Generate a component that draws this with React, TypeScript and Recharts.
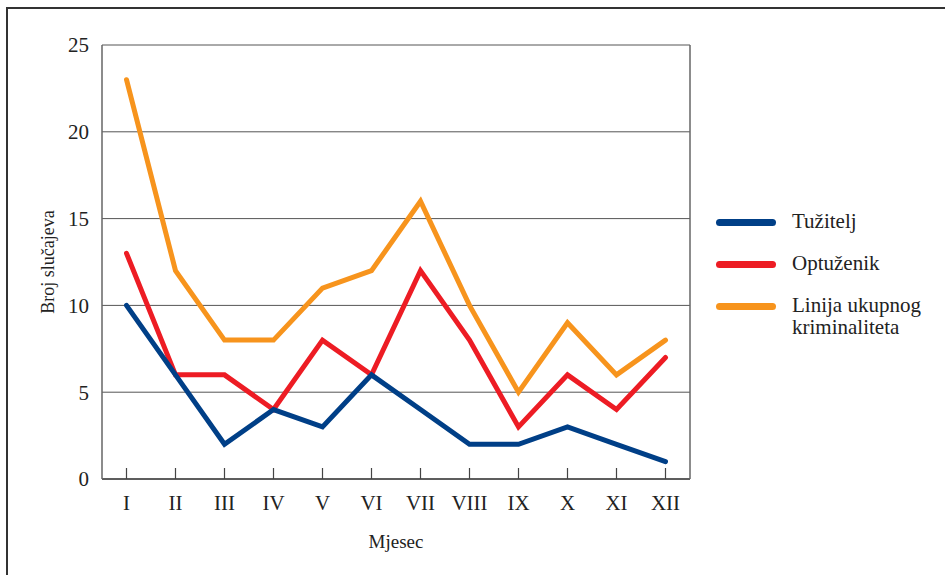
import { LineChart, Line, XAxis, YAxis, CartesianGrid } from "recharts";

// months (Roman numerals) and counts
const months = ["I", "II", "III", "IV", "V", "VI", "VII", "VIII", "IX", "X", "XI", "XII"];
const tuzitelj = [10, 6, 2, 4, 3, 6, 4, 2, 2, 3, 2, 1];
const optuzenik = [13, 6, 6, 4, 8, 6, 12, 8, 3, 6, 4, 7];
const ukupno = [23, 12, 8, 8, 11, 12, 16, 10, 5, 9, 6, 8];
const yTicks = [0, 5, 10, 15, 20, 25];

const series = [
  { key: "tuzitelj", name: ["Tužitelj"], color: "#003f87", axis: "left" },
  { key: "optuzenik", name: ["Optuženik"], color: "#ed1c24", axis: "left" },
  { key: "ukupno", name: ["Linija ukupnog", "kriminaliteta"], color: "#f7941d", axis: "right" },
];

const data = months.map((m, i) => ({
  month: m,
  tuzitelj: tuzitelj[i],
  optuzenik: optuzenik[i],
  ukupno: ukupno[i],
}));

const FONT = '"Liberation Serif", "DejaVu Serif", serif';

// x tick: short tick mark pointing up into the plot, label below
const MonthTick = (props: any) => {
  const { x, y, payload } = props;
  return (
    <g>
      <line x1={x} y1={y - 11} x2={x} y2={y} stroke="#444" strokeWidth={1.2} />
      <text x={x} y={y + 31} textAnchor="middle" fontSize={21} fill="#222" style={{ fontFamily: FONT }}>
        {payload.value}
      </text>
    </g>
  );
};

export default function App() {
  return (
    <div style={{ position: "absolute", left: 0, top: 0, width: 945, height: 575, background: "#fff", fontFamily: FONT }}>
      <div
        style={{
          position: "absolute",
          left: 6,
          top: 7,
          right: 0,
          bottom: 0,
          borderTop: "2px solid #333",
          borderLeft: "2px solid #333",
        }}
      />
      <div style={{ position: "absolute", left: 0, top: 0 }}>
        <LineChart width={945} height={575} data={data} margin={{ top: 45, right: 254, bottom: 21, left: 42 }}>
          <CartesianGrid vertical={false} stroke="#555" strokeWidth={1} yAxisId="left" />
          <XAxis
            dataKey="month"
            padding={{ left: 24.5, right: 24.5 }}
            tickLine={false}
            tickSize={0}
            tickMargin={0}
            tick={<MonthTick />}
            interval={0}
            height={75}
            stroke="#444"
            strokeWidth={1.5}
            label={{
              value: "Mjesec",
              position: "insideBottom",
              offset: 6,
              fill: "#222",
              style: { fontFamily: FONT, fontSize: 19 },
            }}
          />
          <YAxis
            yAxisId="left"
            domain={[0, 25]}
            ticks={yTicks}
            width={60}
            tickLine={false}
            tickMargin={7}
            stroke="#666"
            strokeWidth={1.5}
            tick={{ fontSize: 21, fill: "#222", style: { fontFamily: FONT } }}
            label={{
              value: "Broj slučajeva",
              angle: -90,
              position: "insideLeft",
              offset: 6,
              fill: "#222",
              style: { textAnchor: "middle", fontFamily: FONT, fontSize: 18 },
            }}
          />
          <YAxis
            yAxisId="right"
            orientation="right"
            domain={[0, 25]}
            ticks={yTicks}
            width={1}
            tick={false}
            tickLine={false}
            stroke="#666"
            strokeWidth={1.5}
          />
          {[...series].reverse().map((s) => (
            <Line
              key={s.key}
              yAxisId={s.axis}
              dataKey={s.key}
              type="linear"
              stroke={s.color}
              strokeWidth={5}
              strokeLinejoin="miter"
              strokeLinecap="round"
              dot={false}
              activeDot={false}
              isAnimationActive={false}
            />
          ))}
        </LineChart>
      </div>
      <div style={{ position: "absolute", left: 716, top: 210, fontFamily: FONT }}>
        {series.map((s) => (
          <div key={s.key} style={{ display: "flex", alignItems: "flex-start", marginBottom: 20 }}>
            <div
              style={{
                width: 60,
                height: 7,
                borderRadius: 4,
                background: s.color,
                marginTop: 9,
                marginRight: 16,
              }}
            />
            <div style={{ fontSize: 21, lineHeight: "22px", color: "#222", fontFamily: FONT }}>
              {s.name.map((n) => (
                <div key={n}>{n}</div>
              ))}
            </div>
          </div>
        ))}
      </div>
    </div>
  );
}
